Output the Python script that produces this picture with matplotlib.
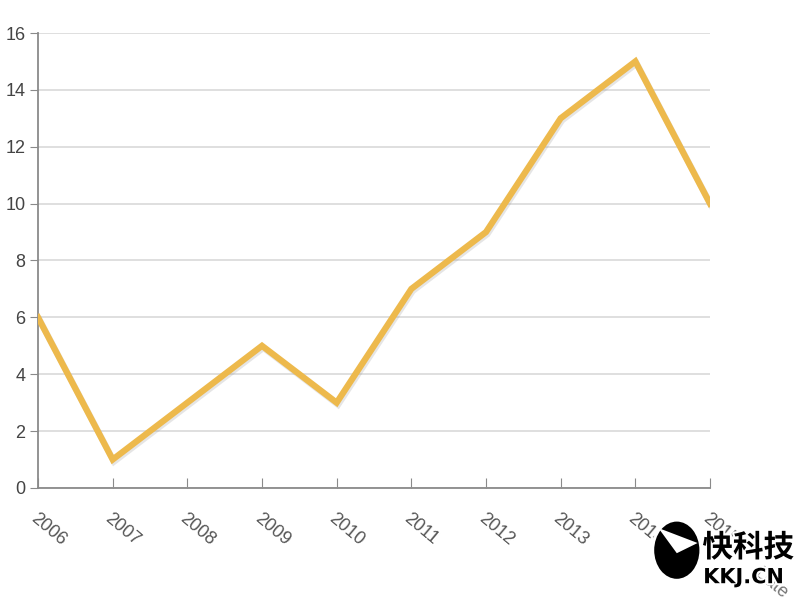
import matplotlib
matplotlib.use("Agg")
import matplotlib.pyplot as plt
import matplotlib.patheffects as pe
from matplotlib.patches import Ellipse, Polygon

years = ["2006", "2007", "2008", "2009", "2010", "2011", "2012", "2013", "2014", "2015"]
values = [6, 1, 3, 5, 3, 7, 9, 13, 15, 10]
yticks = [0, 2, 4, 6, 8, 10, 12, 14, 16]

fig = plt.figure(figsize=(8, 6), dpi=100)
ax = fig.add_axes([0.0475, 0.1867, 0.84, 0.7583])

x = list(range(len(years)))
ax.plot(x, values, color="#EDB94C", linewidth=4.5, solid_joinstyle="miter",
        path_effects=[pe.SimpleLineShadow(offset=(1, -1.5), shadow_color="#999999", alpha=0.25),
                      pe.Normal()], zorder=3)

ax.set_xlim(0, len(years) - 1)
ax.set_ylim(0, 16)
ax.set_yticks(yticks)
ax.set_yticklabels([str(v) for v in yticks], fontsize=13, color="#444444",
                   family="Liberation Sans")
ax.set_xticks(x)
ax.set_xticklabels(years, rotation=-40, ha="left", rotation_mode="anchor",
                   fontsize=13, color="#555555", family="Liberation Sans")

ax.grid(axis="y", color="#d9d9d9", linewidth=1.2)
ax.set_axisbelow(True)
for s in ["top", "right"]:
    ax.spines[s].set_visible(False)
for s in ["left", "bottom"]:
    ax.spines[s].set_color("#8a8a8a")
    ax.spines[s].set_linewidth(1.3)
ax.tick_params(axis="y", direction="out", length=6, color="#8a8a8a", pad=3)
ax.tick_params(axis="x", direction="in", length=7, color="#8a8a8a", pad=16)

ax.set_xlabel("Date", fontsize=13, color="#777777", rotation=-40,
              family="Liberation Sans")
ax.xaxis.set_label_coords(1.09, -0.17)

# watermark
circ = Ellipse((0.846, 0.083), 0.06, 0.1, transform=fig.transFigure, facecolor="black",
               edgecolor="white", linewidth=2, zorder=5)
fig.add_artist(circ)
plane = Polygon([(0.823, 0.12), (0.872, 0.095), (0.846, 0.078)], closed=True,
                transform=fig.transFigure, facecolor="white", edgecolor="none", zorder=6)
fig.add_artist(plane)
fig.text(0.878, 0.072, "快科技", fontsize=22, fontweight="bold", color="black",
         family=["Noto Sans CJK SC", "DejaVu Sans"], zorder=6,
         path_effects=[pe.withStroke(linewidth=3, foreground="white")])
fig.text(0.879, 0.028, "KKJ.CN", fontsize=15, fontweight="bold", color="black",
         family="DejaVu Sans", zorder=6,
         path_effects=[pe.withStroke(linewidth=3, foreground="white")])

fig.savefig("out.png", dpi=100, facecolor="white")
